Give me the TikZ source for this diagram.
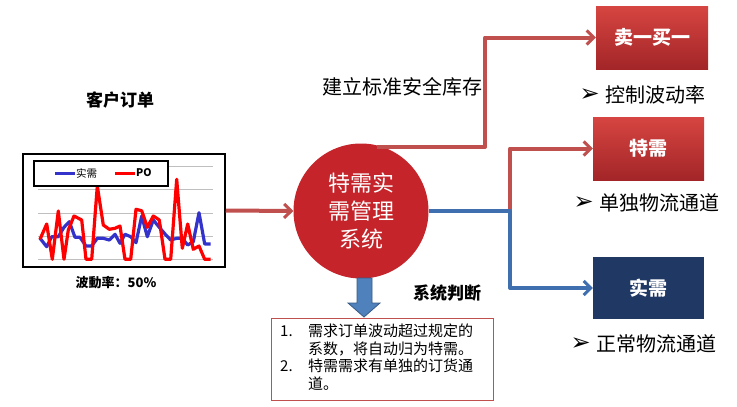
\documentclass[tikz,border=0pt]{standalone}
\usepackage{fontspec}
\setmainfont{Noto Sans CJK SC}
\newfontfamily\dejavu{DejaVu Sans}
\usetikzlibrary{arrows.meta,calc}
\definecolor{lnred}{HTML}{C0504D}
\definecolor{lnblue}{HTML}{3F6FAE}
\definecolor{circred}{HTML}{C4242A}
\definecolor{navy}{HTML}{1F3864}
\definecolor{boxtop}{HTML}{D64541}
\definecolor{boxbot}{HTML}{A32528}
\definecolor{arrblue}{HTML}{4F81BD}
\definecolor{chartblue}{HTML}{3333CC}
\tikzset{
  redline/.style={draw=lnred,line width=4pt,-{Straight Barb[length=7pt,width=14pt,line width=3pt]}},
  blueline/.style={draw=lnblue,line width=4pt,-{Straight Barb[length=7pt,width=14pt,line width=3pt]}},
  redbox/.style={draw=none,top color=boxtop,bottom color=boxbot,minimum width=112pt,minimum height=63pt,text=white,font=\fontsize{19}{21}\selectfont\bfseries},
  navybox/.style={fill=navy,minimum width=111pt,minimum height=62pt,text=white,font=\fontsize{19}{21}\selectfont\bfseries},
  bullet/.style={anchor=west,font=\fontsize{20}{22}\selectfont},
  grid/.style={draw=black!25,line width=0.8pt},
  series/.style={line width=3.2pt,line join=round},
}
\newcommand{\bul}{\raisebox{1pt}{\dejavu\fontsize{24}{24}\selectfont ➢}\hspace{6pt}}
\begin{document}
\begin{tikzpicture}[x=1pt,y=-1pt]
\useasboundingbox (0,0) rectangle (737,407);
% title
\node[font=\fontsize{17}{19}\selectfont\bfseries] (title) at (120,100) {客户订单};
% chart
\node[draw=black,line width=1.5pt,minimum width=202pt,minimum height=113pt,inner sep=0pt] (chart) at (124,210.5) {};
\foreach \yy in {166,189,213,236,259} \draw[grid] (38,\yy) -- (213,\yy);
\draw[series,draw=chartblue] plot coordinates {(40,238.3)(46.7,246.7)(51.7,236.7)(58.3,236.7)(64,227.3)(69.3,221.7)(75,237.3)(80,237.3)(86,246)(91.7,246)(97.3,238.3)(103.3,238.3)(109.3,240)(115,234.3)(120,243.3)(125,234.3)(130.7,236.7)(136,242.7)(141.7,216)(147.3,236.7)(153.3,220)(159.3,227.3)(165,234)(170.7,240)(176.7,238.3)(182.3,238.3)(187.7,245)(193.3,241.7)(199,212.7)(204.7,244)(210.7,244)};
\draw[series,draw=red] plot coordinates {(40,239.3)(46.7,224)(52.3,259.3)(58.3,211)(64,259.3)(68.3,230)(74,216)(81.7,220)(86,259.3)(91.7,259.3)(97.3,186)(103.3,225)(109.3,229.3)(115,228.3)(120,226)(125,259.3)(130.7,259.3)(136,209.3)(141.7,210.7)(147.3,227.3)(153.3,216)(159.3,220)(165,259.3)(170.7,259.3)(176.7,179.3)(182.3,248.3)(187.7,224)(193.3,249.3)(199,246)(204.7,259.3)(210.7,259.3)};
% legend
\node[draw=black,fill=white,line width=1.2pt,minimum width=134pt,minimum height=25pt,inner sep=0pt] (legend) at (101,173.5) {};
\draw[draw=chartblue,line width=3pt] (55,173) -- (75,173);
\node[anchor=west,font=\fontsize{10.5}{11}\selectfont,inner sep=0pt] (l1) at (76,173) {实需};
\draw[draw=red,line width=3pt] (115,173) -- (135,173);
\node[anchor=west,font=\fontsize{10.5}{11}\selectfont\bfseries,inner sep=0pt] (l2) at (136,173) {PO};
\node[font=\fontsize{13}{15}\selectfont\bfseries] (rate) at (116,283) {波動率：50\%};
% circle
\node[circle,fill=circred,minimum size=135pt,inner sep=0pt,text=white,align=center,font=\fontsize{22}{28}\selectfont] (sys) at (361,211) {特需实\\需管理\\系统};
\draw[redline] (chart.east) -- (sys.west);
% boxes
\node[redbox] (b1) at (652,37.5) {卖一买一};
\node[redbox,minimum width=111pt] (b2) at (648.5,148.5) {特需};
\node[navybox] (b3) at (648.5,288) {实需};
% connectors
\coordinate (s1) at (377,147);
\coordinate (j) at (510,211);
\draw[redline,line join=round] (s1) -- (485,147) |- (b1.west);
\draw[redline,line join=round] (j) |- (b2.west);
\draw[blueline,line join=round] (sys.east) -- (j) |- (b3.west);
% labels
\node[font=\fontsize{20}{22}\selectfont] (lab1) at (402,87) {建立标准安全库存};
\node[bullet] (t1) at (576,95) {\bul 控制波动率};
\node[bullet] (t2) at (570,203) {\bul 单独物流通道};
\node[bullet] (t3) at (567,344) {\bul 正常物流通道};
% down arrow
\fill[arrblue,draw=arrblue!70!black,line width=0.8pt] (357,278) -- (372,278) -- (372,303) -- (380,303) -- (364,317) -- (348,303) -- (357,303) -- cycle;
\node[font=\fontsize{17}{19}\selectfont\bfseries] (judge) at (447,293) {系统判断};
% text box
\node[draw=lnred,line width=1pt,minimum width=222pt,minimum height=82pt,anchor=north west,inner sep=0pt] (tb) at (271,318) {};
\node[anchor=north west,align=left,font=\fontsize{15}{17.4}\selectfont,inner sep=0pt] (tbt) at (280,324) {\makebox[28pt][l]{1.}需求订单波动超过规定的\\\hspace*{28pt}系数，将自动归为特需。\\\makebox[28pt][l]{2.}特需需求有单独的订货通\\\hspace*{28pt}道。};
\end{tikzpicture}
\end{document}
